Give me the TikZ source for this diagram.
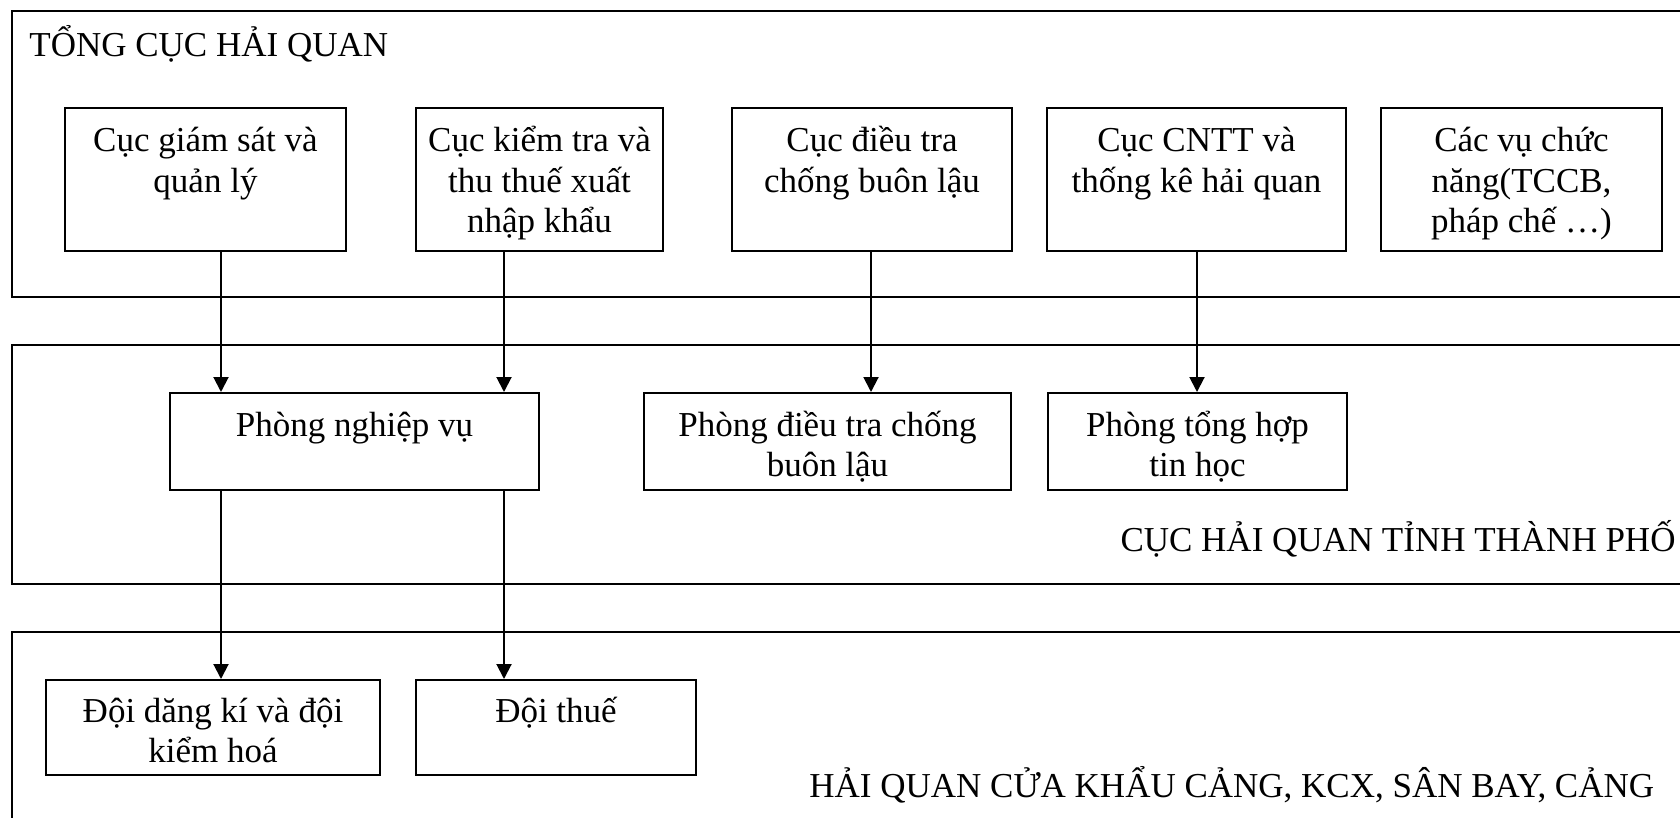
\documentclass[tikz,border=0pt]{standalone}
\usepackage{fontspec}
\setmainfont{Liberation Serif}
\usetikzlibrary{arrows.meta}
\newcommand{\boxtext}[4]{\begin{minipage}[t][#2][t]{#1}\centering\lineskiplimit=-100pt\rule{0pt}{#3}#4\end{minipage}}
\tikzset{
  box/.style={draw, line width=1pt, inner sep=0pt, anchor=north west},
  lbl/.style={inner sep=0pt},
  arr/.style={line width=1pt, -{Triangle[length=7.5pt,width=7.5pt]}},
  frame/.style={line width=1pt}
}
\begin{document}
\begin{tikzpicture}[x=0.5pt,y=-0.5pt,font=\fontsize{17.5pt}{20.2pt}\selectfont]
\useasboundingbox (0,0) rectangle (1680,818);
\clip (0,0) rectangle (1680,818);
% frames
\draw[frame] (12,11) rectangle (1700,297);
\draw[frame] (12,345) rectangle (1700,584);
\draw[frame] (12,632) rectangle (1700,840);
% titles
\node[lbl, anchor=base west] (t1) at (29,57) {TỔNG CỤC HẢI QUAN};
\node[lbl, anchor=base east] (t2) at (1676,551) {CỤC HẢI QUAN TỈNH THÀNH PHỐ};
\node[lbl, anchor=base west] (t3) at (809,797) {HẢI QUAN CỬA KHẨU CẢNG, KCX, SÂN BAY, CẢNG};
% row 1
\node[box] (B1) at (64,107) {\boxtext{140.5pt}{71.5pt}{22pt}{Cục giám sát và\\quản lý}};
\node[box] (B2) at (415,107) {\boxtext{123.5pt}{71.5pt}{22pt}{Cục kiểm tra và\\thu thuế xuất\\nhập khẩu}};
\node[box] (B3) at (731,107) {\boxtext{140pt}{71.5pt}{22pt}{Cục điều tra\\chống buôn lậu}};
\node[box] (B4) at (1046,107) {\boxtext{149.5pt}{71.5pt}{22pt}{Cục CNTT và\\thống kê hải quan}};
\node[box] (B5) at (1380,107) {\boxtext{140.5pt}{71.5pt}{22pt}{Các vụ chức\\năng(TCCB,\\pháp chế …)}};
% row 2
\node[box] (P1) at (169,392) {\boxtext{184.5pt}{48.5pt}{21.5pt}{Phòng nghiệp vụ}};
\node[box] (P2) at (643,392) {\boxtext{183.5pt}{48.5pt}{21.5pt}{Phòng điều tra chống\\buôn lậu}};
\node[box] (P3) at (1047,392) {\boxtext{149.5pt}{48.5pt}{21.5pt}{Phòng tổng hợp\\tin học}};
% row 3
\node[box] (D1) at (45,679) {\boxtext{167pt}{47.5pt}{21pt}{Đội dăng kí và đội\\kiểm hoá}};
\node[box] (D2) at (415,679) {\boxtext{140pt}{47.5pt}{21pt}{Đội thuế}};
% arrow columns
\coordinate (a1) at (221,0);
\coordinate (a2) at (504,0);
\coordinate (a3) at (871,0);
\coordinate (a4) at (1197,0);
\draw[arr] (B1.south -| a1) -- (P1.north -| a1);
\draw[arr] (B2.south -| a2) -- (P1.north -| a2);
\draw[arr] (B3.south -| a3) -- (P2.north -| a3);
\draw[arr] (B4.south -| a4) -- (P3.north -| a4);
\draw[arr] (P1.south -| a1) -- (D1.north -| a1);
\draw[arr] (P1.south -| a2) -- (D2.north -| a2);
\end{tikzpicture}
\end{document}
